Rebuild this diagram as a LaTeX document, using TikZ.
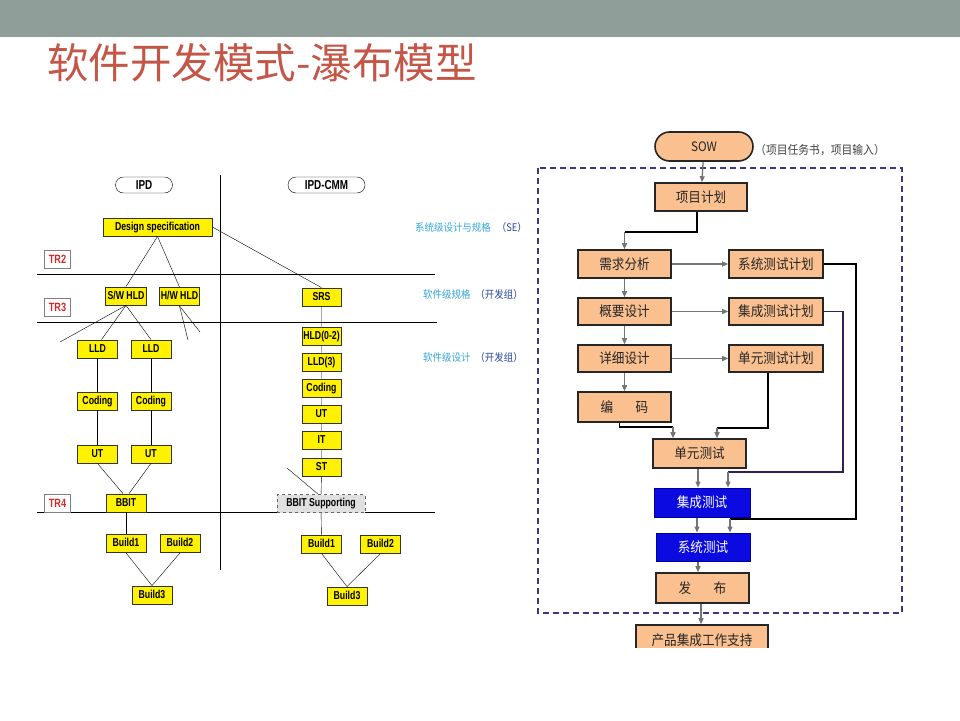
\documentclass[tikz,border=0pt]{standalone}
\usepackage{fontspec}
\usetikzlibrary{arrows.meta}
\setmainfont{Liberation Sans}
\newfontfamily\boxfont[FakeStretch=0.76]{Liberation Sans}
\newfontfamily\cjk{Noto Sans CJK SC}
\newfontfamily\cjkn[FakeStretch=0.9]{Noto Sans CJK SC}
\definecolor{barcol}{RGB}{143,158,152}
\definecolor{titlecol}{RGB}{196,86,72}
\definecolor{cyancol}{RGB}{50,165,215}
\definecolor{dkblue}{RGB}{40,70,160}
\definecolor{orangefill}{RGB}{250,192,143}
\definecolor{flowblue}{RGB}{10,10,225}
\definecolor{framecol}{RGB}{70,50,130}
\definecolor{trred}{RGB}{210,40,40}
\definecolor{itpcol}{RGB}{50,30,90}

\begin{document}
\begin{tikzpicture}[x=1pt,y=-1pt,
  ybox/.style={draw=black!80,fill=yellow,line width=0.8,minimum width=40,minimum height=18,
    inner sep=1,text height=8.5,text depth=2.5,font=\boxfont\bfseries\fontsize{11.5}{12}\selectfont},
  gbox/.style={ybox,fill=black!12,draw=black!60,dashed},
  pill/.style={draw,fill=white,rounded corners=8,minimum height=16,inner sep=1,
    text height=9,text depth=1,font=\boxfont\bfseries\fontsize{13}{14}\selectfont},
  trbox/.style={draw=black!50,fill=white,minimum width=26,minimum height=18,inner sep=1,
    text=trred,text height=8.5,text depth=0.5,font=\boxfont\bfseries\fontsize{12}{13}\selectfont},
  lbl/.style={anchor=west,inner sep=0,text=cyancol,font=\cjkn\fontsize{10.5}{12}\selectfont},
  obox/.style={draw=black!85,line width=1.6,fill=orangefill,minimum width=93,minimum height=28,
    inner sep=1,text=black!85,font=\cjkn\fontsize{14}{16}\selectfont},
  bbox/.style={obox,fill=flowblue,draw=blue!60!black,line width=1,text=white},
  garrow/.style={draw=black!55,line width=1.3,-{Triangle[length=6,width=5]}},
  bline/.style={draw=black,line width=1.8},
  pline/.style={draw=itpcol,line width=1.6}]
\useasboundingbox (0,0) rectangle (960,720);
\fill[barcol] (0,0) rectangle (960,37);
\node[anchor=base west,inner sep=0,text=titlecol,font=\cjk\fontsize{41.5}{44}\selectfont] (title) at (47,78) {软件开发模式-瀑布模型};

\draw (220,175) -- (220,570);
\draw (37,274) -- (435,274);
\draw (37,322) -- (437,322);
\draw (37,512) -- (435,512);

\node[pill,minimum width=57] (ipd) at (144,185) {IPD};
\node[pill,minimum width=77] (cmm) at (326.5,185) {IPD-CMM};
\node[trbox] (tr2) at (57.5,259) {TR2};
\node[trbox] (tr3) at (57.5,307) {TR3};
\node[trbox] (tr4) at (57.5,503.5) {TR4};

\node[ybox,minimum width=109] (ds) at (157.5,227) {Design specification};
\node[ybox,minimum width=41] (swhld) at (126,296) {S/W HLD};
\node[ybox,minimum width=39] (hwhld) at (179.5,296.5) {H/W HLD};
\node[ybox] (lldA) at (97.5,349) {LLD};
\node[ybox] (lldB) at (151,349) {LLD};
\node[ybox] (codA) at (97.5,401) {Coding};
\node[ybox] (codB) at (151,401) {Coding};
\node[ybox] (utA) at (97.5,454) {UT};
\node[ybox] (utB) at (151,454) {UT};
\node[ybox] (bbit) at (126,503) {BBIT};
\node[ybox] (bldA) at (126,543.5) {Build1};
\node[ybox] (bldB) at (180,543.5) {Build2};
\node[ybox] (bldC) at (152,595) {Build3};

\node[ybox,minimum width=39] (srs) at (321.5,297) {SRS};
\node[ybox,minimum width=39] (hldr) at (321.5,336) {HLD(0-2)};
\node[ybox,minimum width=39] (lldr) at (321.5,362) {LLD(3)};
\node[ybox,minimum width=39] (codr) at (321.5,388) {Coding};
\node[ybox,minimum width=39] (utr) at (321.5,414.5) {UT};
\node[ybox,minimum width=39] (itr) at (321.5,440.5) {IT};
\node[ybox,minimum width=39] (str) at (321.5,467.5) {ST};
\node[gbox,minimum width=88] (bbits) at (321,503.5) {BBIT Supporting};
\node[ybox] (bldrA) at (321.5,544) {Build1};
\node[ybox] (bldrB) at (380.5,544) {Build2};
\node[ybox] (bldrC) at (347,596) {Build3};

\coordinate (fanA) at (60,342);
\coordinate (fanB) at (188,340);
\coordinate (fanC) at (200,332);
\coordinate (stub) at (287,468);

\draw (ds.south) -- (swhld.north);
\draw (ds.south) -- (hwhld.north);
\draw (ds.east) -- (srs.north);
\draw (swhld.south) -- (fanA);
\draw (swhld.south) -- ([xshift=4]lldA.north);
\draw (swhld.south) -- (lldB.north);
\draw (hwhld.south) -- (fanB);
\draw (hwhld.south) -- (fanC);
\draw (lldA) -- (codA) -- (utA);
\draw (lldB) -- (codB) -- (utB);
\draw (utA.south) -- ([xshift=-3]bbit.north);
\draw (utB.south) -- ([xshift=3]bbit.north);
\draw (bbit) -- (bldA);
\draw (bldA.south) -- (bldC.north);
\draw (bldB.south) -- (bldC.north);
\draw (srs) -- (hldr) -- (lldr) -- (codr) -- (utr) -- (itr) -- (str) -- (bbits) -- (bldrA);
\draw (stub) -- ([xshift=-3]bbits.north);
\draw (bldrA.south) -- (bldrC.north);
\draw (bldrB.south) -- (bldrC.north);

\node[lbl] (lse) at (415,228) {系统级设计与规格\hspace{6pt}{\color{dkblue}（SE）}};
\node[lbl] (lsr) at (423,295) {软件级规格\hspace{5pt}{\color{dkblue}（开发组）}};
\node[lbl] (lsd) at (423,358) {软件级设计\hspace{5pt}{\color{dkblue}（开发组）}};

\draw[framecol,line width=1.8,dash pattern=on 6pt off 4pt] (538,168) rectangle (902,613);

\node[obox,minimum width=98,minimum height=29,rounded corners=14.5,font=\cjkn\fontsize{13}{15}\selectfont] (sow) at (704,146.5) {SOW};
\node[anchor=west,inner sep=0,text=black!75,font=\cjkn\fontsize{12}{14}\selectfont] (note) at (755,150) {（项目任务书，项目输入）};
\node[obox,minimum width=92] (plan) at (701,197) {项目计划};
\node[obox] (req) at (624.5,264) {需求分析};
\node[obox,minimum height=27] (hld) at (624.5,311.5) {概要设计};
\node[obox,minimum height=27] (dd) at (624.5,358.5) {详细设计};
\node[obox,minimum height=30] (code) at (624.5,407) {编\hspace{1.6em}码};
\node[obox,minimum width=94] (stp) at (776,264) {系统测试计划};
\node[obox,minimum width=94,minimum height=27] (itp) at (776,311.5) {集成测试计划};
\node[obox,minimum width=94,minimum height=27] (utp) at (776,358.5) {单元测试计划};
\node[obox,minimum height=29] (ut) at (699.5,453.5) {单元测试};
\node[bbox,minimum width=96,minimum height=29] (it) at (702,502.5) {集成测试};
\node[bbox,minimum width=94] (st) at (703,547) {系统测试};
\node[obox,minimum height=30] (rel) at (702.5,588) {发\hspace{1.6em}布};
\begin{scope}
\clip (0,0) rectangle (960,647);
\node[obox,minimum width=132,minimum height=30] (prod) at (702,640) {产品集成工作支持};
\end{scope}

\coordinate (jp) at (624.5,232);
\coordinate (jc) at (673,427);
\coordinate (ju) at (717,428);
\coordinate (ji) at (728,472);
\coordinate (js) at (730,519);

\draw[garrow] (sow) -- (plan);
\draw[bline] ([xshift=-4]plan.south) |- (jp);
\draw[garrow] (jp) -- (req.north);
\draw[garrow] (req) -- (hld);
\draw[garrow] (hld) -- (dd);
\draw[garrow] (dd) -- (code);
\draw[garrow] (req) -- (stp);
\draw[garrow] (hld) -- (itp);
\draw[garrow] (dd) -- (utp);
\draw[bline] ([xshift=-5]code.south) |- (jc);
\draw[garrow] (jc) -- (jc |- ut.north);
\draw[bline] ([xshift=-8]utp.south) |- (ju);
\draw[garrow] (ju) -- (ju |- ut.north);
\draw[pline] (itp.east) -| (843,472) -- (ji);
\draw[garrow] (ji) -- (ji |- it.north);
\draw[bline] (stp.east) -| (856,519) -- (js);
\draw[garrow] (js) -- (js |- st.north);
\draw[garrow] ([xshift=-1.5]ut.south) -- ([xshift=-1.5]ut.south |- it.north);
\draw[garrow] ([xshift=-5]it.south) -- ([xshift=-5]it.south |- st.north);
\draw[garrow] ([xshift=-5]st.south) -- ([xshift=-5]st.south |- rel.north);
\draw[garrow] ([xshift=-1.5]rel.south) -- ([xshift=-1.5]rel.south |- prod.north);
\end{tikzpicture}
\end{document}
